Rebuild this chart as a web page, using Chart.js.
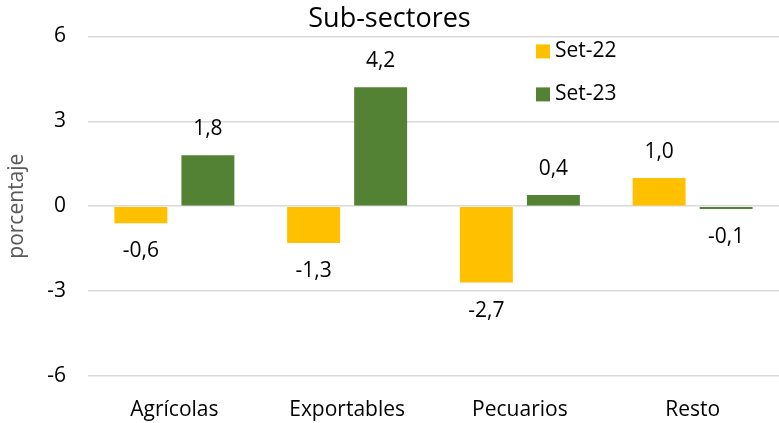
<!DOCTYPE html>
<html lang="es">
<head>
  <meta charset="UTF-8">
  <title>Sub-sectores</title>
  <script src="https://cdn.jsdelivr.net/npm/chart.js"></script>
  <style>
    body { margin: 0; background: #fff; }
    #wrap { width: 779px; height: 423px; }
  </style>
</head>
<body>
  <div id="wrap"><canvas id="subChart" width="779" height="423"></canvas></div>

  <script>
    const categories = ["Agrícolas", "Exportables", "Pecuarios", "Resto"];
    const seriesNames = ["Set-22", "Set-23"];
    const set22 = [-0.6, -1.3, -2.7, 1.0];
    const set23 = [1.8, 4.2, 0.4, -0.1];
    const yTicks = [-6, -3, 0, 3, 6];
    const colors = ["#FFC000", "#548235"];

    const FONT = "'Open Sans', 'Noto Sans', sans-serif";

    // etiquetas de valor sobre/bajo cada barra
    const valueLabels = {
      id: "valueLabels",
      afterDatasetsDraw(chart) {
        const ctx = chart.ctx;
        ctx.save();
        ctx.font = "21px " + FONT;
        ctx.fillStyle = "#000";
        ctx.textAlign = "center";
        ctx.textBaseline = "middle";
        chart.data.datasets.forEach((ds, i) => {
          chart.getDatasetMeta(i).data.forEach((bar, j) => {
            const v = ds.data[j];
            const y = v >= 0 ? bar.y - 26 : bar.y + 28;
            ctx.fillText(v.toFixed(1).replace(".", ","), bar.x, y);
          });
        });
        ctx.restore();
      }
    };

    // leyenda dentro del área del gráfico, arriba a la derecha
    const insideLegend = {
      id: "insideLegend",
      afterDraw(chart) {
        const ctx = chart.ctx;
        const area = chart.chartArea;
        const x = area.left + 448;
        ctx.save();
        ctx.font = "21px " + FONT;
        ctx.textBaseline = "middle";
        chart.data.datasets.forEach((ds, i) => {
          const cy = area.top + 15 + i * 43;
          ctx.fillStyle = ds.backgroundColor;
          ctx.fillRect(x, cy - 7, 14, 14);
          ctx.fillStyle = "#000";
          ctx.fillText(ds.label, x + 19, cy);
        });
        ctx.restore();
      }
    };

    new Chart(document.getElementById("subChart"), {
      type: "bar",
      data: {
        labels: categories,
        datasets: [
          { label: seriesNames[0], data: set22, backgroundColor: colors[0] },
          { label: seriesNames[1], data: set23, backgroundColor: colors[1] }
        ]
      },
      options: {
        responsive: false,
        animation: false,
        categoryPercentage: 0.776,
        barPercentage: 0.79,
        plugins: {
          legend: { display: false },
          tooltip: { enabled: false },
          title: {
            display: true,
            text: "Sub-sectores",
            color: "#000",
            font: { family: FONT, size: 27, weight: "normal", lineHeight: 1.2 },
            padding: { top: 3, bottom: 1 }
          }
        },
        scales: {
          x: {
            grid: { display: false },
            border: { display: false },
            ticks: { color: "#000", font: { family: FONT, size: 21 }, padding: 13 },
            afterFit(scale) { scale.height = 47; }
          },
          y: {
            min: -6,
            max: 6,
            afterBuildTicks(scale) { scale.ticks = yTicks.map(v => ({ value: v })); },
            grid: { color: "#d9d9d9", lineWidth: 1.5, drawTicks: false },
            border: { display: false },
            ticks: { color: "#000", font: { family: FONT, size: 21 }, padding: 22 },
            title: {
              display: true,
              text: "porcentaje",
              color: "#595959",
              font: { family: FONT, size: 21 },
              padding: { top: 4, bottom: 0 }
            },
            afterFit(scale) { scale.width = 88; }
          }
        }
      },
      plugins: [valueLabels, insideLegend]
    });
  </script>
</body>
</html>
